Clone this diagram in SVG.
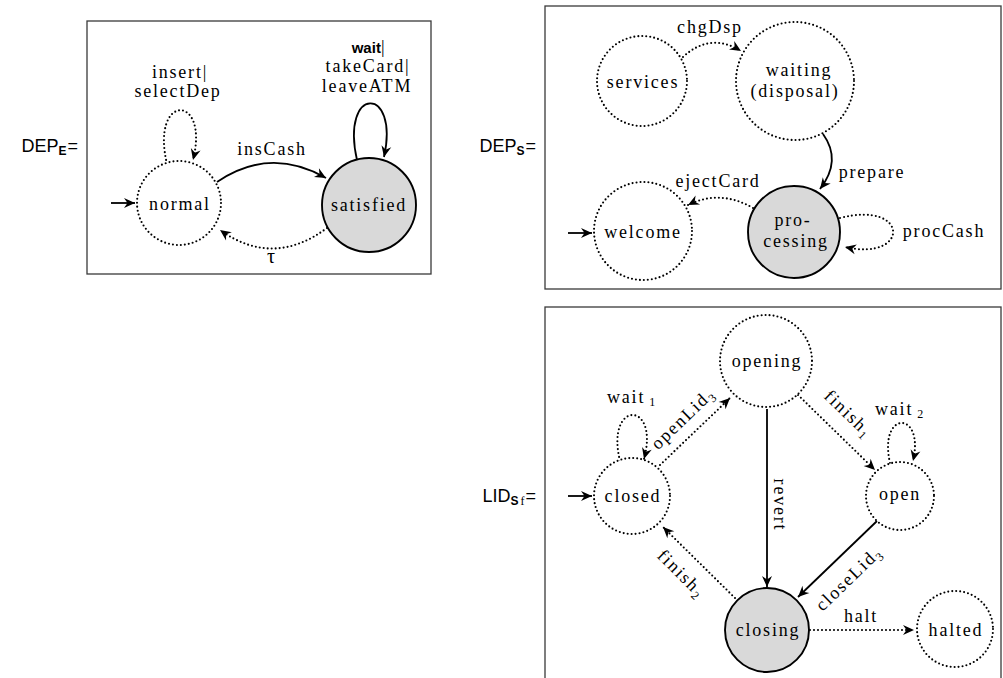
<svg xmlns="http://www.w3.org/2000/svg" width="1003" height="678" viewBox="0 0 1003 678">
  <style>
    .box { fill: none; stroke: #3a3a3a; stroke-width: 1.3; }
    .st { fill: #fff; stroke: #000; stroke-width: 2.1; stroke-dasharray: 0 4; stroke-linecap: round; }
    .acc { fill: #d9d9d9; stroke: #000; stroke-width: 1.9; }
    .e { fill: none; stroke: #000; stroke-width: 1.8; marker-end: url(#ah); }
    .ed { fill: none; stroke: #000; stroke-width: 2.1; stroke-dasharray: 0 4; stroke-linecap: round; marker-end: url(#ah); }
    text { font-family: "Liberation Serif", serif; font-size: 18px; letter-spacing: 1.8px; fill: #000; }
    .c { text-anchor: middle; }
    .sans { font-family: "Liberation Sans", sans-serif; letter-spacing: 0; }
    .bsub { font-family: "Liberation Sans", sans-serif; font-weight: bold; font-size: 12px; letter-spacing: 0; }
    .sub { font-size: 12px; letter-spacing: 0; }
    .wt { font-family: "Liberation Sans", sans-serif; font-weight: bold; font-size: 15px; letter-spacing: 0; }
  </style>
  <defs>
    <marker id="ah" markerUnits="userSpaceOnUse" viewBox="-12 -6 13 12" refX="0" refY="0" markerWidth="13" markerHeight="12" orient="auto">
      <path d="M0,0 L-11,-5 L-7.5,0 L-11,5 Z" fill="#000" stroke="none"/>
    </marker>
  </defs>

  <!-- frames and equation labels -->
  <g id="frames">
    <rect class="box" x="87" y="21" width="344" height="253"/>
    <rect class="box" x="545" y="6" width="456" height="283"/>
    <rect class="box" x="545" y="307" width="456" height="400"/>
    <text class="sans" x="78" y="152" text-anchor="end">DEP<tspan class="bsub" dy="3">E</tspan><tspan dy="-3" dx="1">=</tspan></text>
    <text class="sans" x="536" y="152" text-anchor="end">DEP<tspan class="bsub" dy="3">S</tspan><tspan dy="-3" dx="1">=</tspan></text>
    <text class="sans" x="536" y="502" text-anchor="end">LID<tspan class="bsub" dy="3">S</tspan><tspan class="sub" dx="2" style="font-family:'Liberation Serif',serif">f</tspan><tspan dy="-3" dx="1">=</tspan></text>
  </g>

  <!-- transitions -->
  <g id="connectors">
    <!-- DEP_E -->
    <path class="e" d="M111,203 L135,203"/>
    <path class="ed" d="M167,164 C150,93 210,93 193,160"/>
    <path class="e" d="M357,160 C340,85 400,85 384,157"/>
    <path class="e" d="M217,182 Q270,146 326,178"/>
    <path class="ed" d="M327,228 Q273,268 220,230"/>
    <!-- DEP_S -->
    <path class="e" d="M568,233 L592,233"/>
    <path class="ed" d="M683,57 Q710,32 741,51"/>
    <path class="e" d="M823,134 C836,152 834,171 820,189"/>
    <path class="ed" d="M753,208 Q720,189 688,205"/>
    <path class="ed" d="M840,218 C910,200 910,262 845,247"/>
    <!-- LID_Sf -->
    <path class="e" d="M568,496 L592,496"/>
    <path class="ed" d="M620,461 C605,400 660,400 644,459"/>
    <path class="ed" d="M660,465 L730,398"/>
    <path class="ed" d="M798,395 L875,470"/>
    <path class="ed" d="M890,463 C878,410 925,410 913,461"/>
    <path class="e" d="M767,409 L767,587"/>
    <path class="e" d="M877,521 L798,597"/>
    <path class="ed" d="M735,598 L663,527"/>
    <path class="ed" d="M810,630 L914,630"/>
  </g>

  <!-- transition labels -->
  <g id="edge-labels">
    <text class="c" x="180" y="78">insert|</text>
    <text class="c" x="178" y="97">selectDep</text>
    <text class="c" x="369" y="53"><tspan class="wt">wait</tspan>|</text>
    <text class="c" x="368" y="72">takeCard|</text>
    <text class="c" x="367" y="92">leaveATM</text>
    <text class="c" x="272" y="155">insCash</text>
    <text class="c" x="272" y="263" style="font-size:20px">τ</text>

    <text class="c" x="710" y="33">chgDsp</text>
    <text class="c" x="872" y="178">prepare</text>
    <text class="c" x="718" y="187">ejectCard</text>
    <text class="c" x="944" y="237">procCash</text>

    <text x="607" y="403">wait<tspan class="sub" dx="4" dy="3">1</tspan></text>
    <text x="875" y="415">wait<tspan class="sub" dx="4" dy="3">2</tspan></text>
    <text class="c" x="861" y="622">halt</text>
    <text class="c" transform="translate(780,505) rotate(90)" y="6">revert</text>
    <text class="c" transform="translate(682,419) rotate(-44)" y="6">openLid<tspan class="sub" dy="4">3</tspan></text>
    <text class="c" transform="translate(848,413) rotate(44)" y="6">finish<tspan class="sub" dy="4">1</tspan></text>
    <text class="c" transform="translate(848,579) rotate(-44)" y="6">closeLid<tspan class="sub" dy="4">3</tspan></text>
    <text class="c" transform="translate(681,573) rotate(45)" y="6">finish<tspan class="sub" dy="4">2</tspan></text>
  </g>

  <!-- states -->
  <g id="normal"><circle class="st" cx="179" cy="203" r="42"/><text class="c" x="180" y="210">normal</text></g>
  <g id="satisfied"><circle class="acc" cx="369" cy="205" r="47"/><text class="c" x="369" y="211">satisfied</text></g>

  <g id="services"><circle class="st" cx="642" cy="81" r="45"/><text class="c" x="643" y="88">services</text></g>
  <g id="waiting"><circle class="st" cx="795" cy="81" r="59"/><text class="c" x="799" y="76">waiting</text><text class="c" x="795" y="97">(disposal)</text></g>
  <g id="welcome"><circle class="st" cx="643" cy="231" r="49"/><text class="c" x="643" y="238">welcome</text></g>
  <g id="processing"><circle class="acc" cx="794" cy="232" r="46"/><text class="c" x="793" y="226">pro-</text><text class="c" x="796" y="247">cessing</text></g>

  <g id="opening"><circle class="st" cx="766" cy="361" r="46"/><text class="c" x="767" y="367">opening</text></g>
  <g id="closed"><circle class="st" cx="632" cy="496" r="38"/><text class="c" x="633" y="502">closed</text></g>
  <g id="open"><circle class="st" cx="900" cy="496" r="34"/><text class="c" x="900" y="500">open</text></g>
  <g id="closing"><circle class="acc" cx="767" cy="630" r="42"/><text class="c" x="768" y="636">closing</text></g>
  <g id="halted"><circle class="st" cx="955" cy="629" r="38"/><text class="c" x="956" y="636">halted</text></g>
</svg>
